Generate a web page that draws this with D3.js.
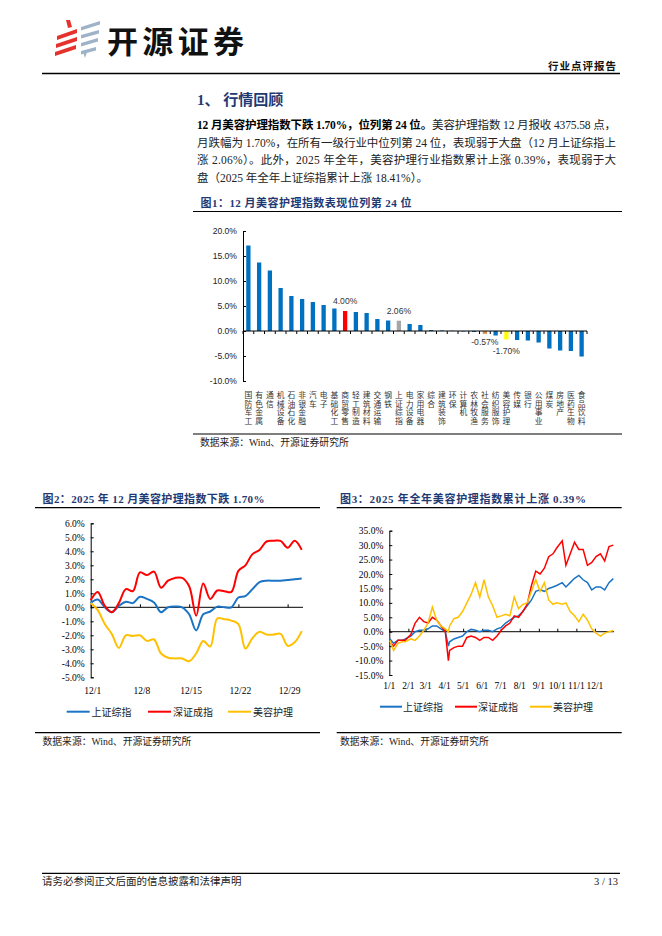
<!DOCTYPE html>
<html><head><meta charset="utf-8">
<script src="https://cdn.jsdelivr.net/npm/d3@7/dist/d3.min.js"></script>
<style>body{margin:0;background:#fff}svg{display:block}</style>
</head><body>
<svg id="page" width="662" height="936"></svg>
<script>
// ---------- DATA ----------
const industries = ["国防军工","有色金属","通信","机械设备","石油石化","非银金融","汽车","电子","基础化工","商贸零售","轻工制造","建筑材料","交通运输","钢铁","上证综指","电力设备","家用电器","综合","建筑装饰","环保","计算机","农林牧渔","社会服务","纺织服饰","美容护理","传媒","银行","公用事业","煤炭","房地产","医药生物","食品饮料"];
const monthReturn = [17.1,13.7,12.1,8.6,7.0,6.4,5.8,5.2,4.5,4.00,3.8,3.6,2.4,2.1,2.06,1.4,1.2,0.2,0.1,0.05,-0.1,-0.2,-0.57,-0.9,-1.70,-1.8,-1.9,-2.3,-3.5,-3.9,-4.0,-5.1];
const highlight = {"商贸零售":"#FF0000","上证综指":"#A6A6A6","社会服务":"#D98C52","美容护理":"#FFFF00"};
const barLabels = {"商贸零售":"4.00%","上证综指":"2.06%","社会服务":"-0.57%","美容护理":"-1.70%"};
const yTicks1 = [-10,-5,0,5,10,15,20];

const days2 = d3.range(1,32);
const xLabels2 = [[1,"12/1"],[8,"12/8"],[15,"12/15"],[22,"12/22"],[29,"12/29"]];
const sh2 = [0.3,0.55,0.0,-0.35,0.1,0.4,0.3,0.75,0.6,0.35,-0.35,0.0,0.05,0.0,-0.5,-1.65,-0.5,-0.3,0.05,0.0,0.0,0.7,0.8,1.3,1.8,1.9,1.9,1.9,1.95,2.0,2.06];
const sz2 = [0.5,1.1,0.1,-0.35,0.3,1.3,1.15,2.5,2.3,2.55,1.4,1.9,2.1,2.1,1.5,-0.6,1.7,0.6,1.2,1.15,1.1,2.6,3.0,3.8,4.1,4.7,4.75,4.75,4.25,4.75,4.1];
const bc2 = [0.3,-0.2,-1.2,-1.9,-2.9,-2.0,-2.05,-2.0,-2.4,-2.3,-3.3,-3.6,-3.65,-3.65,-3.85,-3.3,-2.4,-2.8,-0.8,-0.85,-0.95,-1.2,-2.95,-2.2,-1.75,-1.95,-1.95,-1.9,-2.75,-2.5,-1.7];
const yTicks2 = [-5,-4,-3,-2,-1,0,1,2,3,4,5,6];

const dates3 = ["2025-01-02","2025-01-08","2025-01-15","2025-01-22","2025-01-27","2025-02-05","2025-02-12","2025-02-19","2025-02-26","2025-03-05","2025-03-12","2025-03-19","2025-03-26","2025-04-02","2025-04-07","2025-04-09","2025-04-16","2025-04-23","2025-04-30","2025-05-07","2025-05-14","2025-05-21","2025-05-28","2025-06-04","2025-06-11","2025-06-18","2025-06-25","2025-07-02","2025-07-09","2025-07-16","2025-07-23","2025-07-30","2025-08-06","2025-08-13","2025-08-20","2025-08-27","2025-09-03","2025-09-10","2025-09-17","2025-09-24","2025-09-30","2025-10-09","2025-10-15","2025-10-22","2025-10-29","2025-11-05","2025-11-12","2025-11-19","2025-11-26","2025-12-03","2025-12-10","2025-12-17","2025-12-24","2025-12-31"];
const sh3 = [-2.5,-4,-3,-3,-2.5,-1.5,0,0.5,0.5,1,2,2,1,0,-5,-3.5,-2.5,-2,-1.5,0,0.8,0.5,0,0.5,0.5,0,1,1.5,3,4,5,5.5,7,9,11,14,14.5,14,15,15.5,16,17,15.5,17,18.5,19.5,18,17,14.5,15.5,15.5,14.5,17,18.4];
const sz3 = [-3.5,-5,-3,-3,-3,-1,3,5,3.5,3,5,4,2,0,-10,-6.5,-5.5,-5,-5,-2,-1.5,-2,-3,-2,-2,-3,-1.5,0.5,2,3,5.5,5,7,9.5,16,21,20,22,26,27,29,31.5,23,27,31,28.5,28.5,23,24,26,27,24.5,29.5,30];
const bc3 = [-3,-6.5,-4,-3.5,-3.5,-2.5,-3,-1.5,0.5,3,8.5,4,2,1,0,2,4.5,5,7,10,13,17,12,18,12,9,5,5.5,6,5.5,12,8,9.5,10,14,18,14,17,11,9.5,10,9.5,10,7,5.5,3.5,6,4,1,-0.5,-1.5,-0.5,0,0.39];
const monthTicks3 = ["2025-01-01","2025-02-01","2025-03-01","2025-04-01","2025-05-01","2025-06-01","2025-07-01","2025-08-01","2025-09-01","2025-10-01","2025-11-01","2025-12-01"];
const monthLabels3 = ["1/1","2/1","3/1","4/1","5/1","6/1","7/1","8/1","9/1","10/1","11/1","12/1"];
const yTicks3 = [-15,-10,-5,0,5,10,15,20,25,30,35];

const seriesNames = ["上证综指","深证成指","美容护理"];
const seriesColors = ["#1A73C4","#FF0000","#FFC000"];

// ---------- PAGE ----------
const svg = d3.select("#page");
const NAVY = "#1F3A73";
const CJK = "'Noto Sans CJK SC'";
const SERIF = "'Liberation Serif'," + CJK;
const SANS = "'Liberation Sans'," + CJK;

// logo
const logo = svg.append("g");
const redBars = [[57,36,77,29],[56,44,77,37],[55,52,76,45]];
redBars.forEach(b=>logo.append("polygon").attr("points",`${b[0]},${b[1]} ${b[2]},${b[3]} ${b[2]},${b[3]+4} ${b[0]},${b[1]+4}`).attr("fill","#E5322D"));
logo.append("path").attr("d","M66,20 L70,20 L72,27 L68,28 Z").attr("fill","#E5322D");
const grayBars = [[81,27,100,21],[81,35,99,30],[81,43,98,38],[81,51,96,47]];
grayBars.forEach(b=>logo.append("polygon").attr("points",`${b[0]},${b[1]} ${b[2]},${b[3]} ${b[2]},${b[3]+3.5} ${b[0]},${b[1]+3.5}`).attr("fill","#9FB3C8"));
logo.append("path").attr("d","M83,52 L87,52 L85,58 Z").attr("fill","#9FB3C8");
svg.append("text").attr("x",107).attr("y",53).attr("font-family",CJK).attr("font-weight",700)
  .attr("font-size",31).attr("textLength",137).attr("lengthAdjust","spacing").attr("fill","#111").text("开源证券");
svg.append("text").attr("x",617).attr("y",70).attr("text-anchor","end").attr("font-family",CJK).attr("font-weight",700)
  .attr("font-size",10.5).attr("letter-spacing",1).attr("fill","#111").text("行业点评报告");
svg.append("line").attr("x1",42).attr("x2",620).attr("y1",73.5).attr("y2",73.5).attr("stroke","#000").attr("stroke-width",1.5);

// heading and body
svg.append("text").attr("x",197).attr("y",104.5).attr("font-family",SERIF).attr("font-weight",700).attr("font-size",15).attr("fill",NAVY).text("1、 行情回顾");
const body = svg.append("g").attr("font-family",SERIF).attr("font-size",11.5).attr("fill","#222");
const l1 = body.append("text").attr("x",197).attr("y",128.5).attr("textLength",419).attr("lengthAdjust","spacing");
l1.append("tspan").attr("font-weight",700).attr("fill","#000").text("12 月美容护理指数下跌 1.70%，位列第 24 位。");
l1.append("tspan").text("美容护理指数 12 月报收 4375.58 点，");
body.append("text").attr("x",197).attr("y",146.5).attr("textLength",419).attr("lengthAdjust","spacing").text("月跌幅为 1.70%，在所有一级行业中位列第 24 位，表现弱于大盘（12 月上证综指上");
body.append("text").attr("x",197).attr("y",164).attr("textLength",419).attr("lengthAdjust","spacing").text("涨 2.06%）。此外，2025 年全年，美容护理行业指数累计上涨 0.39%，表现弱于大");
body.append("text").attr("x",197).attr("y",181.5).text("盘（2025 年全年上证综指累计上涨 18.41%）。");

// fig titles
function figTitle(x,y,w,txt){
  svg.append("text").attr("x",x).attr("y",y).attr("font-family",SERIF).attr("font-weight",700).attr("font-size",11)
    .attr("fill",NAVY).attr("textLength",w).attr("lengthAdjust","spacing").text(txt);
}
function hline(x1,x2,y,w){svg.append("line").attr("x1",x1).attr("x2",x2).attr("y1",y).attr("y2",y).attr("stroke","#000").attr("stroke-width",w||1);}
function source(x,y){svg.append("text").attr("x",x).attr("y",y).attr("font-family",SERIF).attr("font-size",9.8).attr("fill","#222").text("数据来源：Wind、开源证券研究所");}

figTitle(200.5,206.5,211,"图1：12 月美容护理指数表现位列第 24 位");
hline(193,622,211.5,1);
hline(193,622,434,1.2);
source(200,446);

// ---------- CHART 1 ----------
const c1 = svg.append("g");
const x1 = d3.scaleBand().domain(industries).range([243,587]).paddingInner(0.6).paddingOuter(0.3);
const y1 = d3.scaleLinear().domain([-10,20]).range([381,231]);
c1.append("g").attr("transform","translate(243,0)")
  .call(d3.axisLeft(y1).tickValues(yTicks1).tickSize(-3).tickPadding(6).tickFormat(d=>d.toFixed(1)+"%"))
  .call(g=>{g.select(".domain").attr("stroke","#000");g.selectAll("text").attr("font-family",SANS).attr("font-size",8.6).attr("fill","#222");});
c1.selectAll("rect.bar").data(industries).join("rect").attr("class","bar")
  .attr("x",d=>x1(d)).attr("width",x1.bandwidth())
  .attr("y",(d,i)=>y1(Math.max(0,monthReturn[i]))).attr("height",(d,i)=>Math.abs(y1(monthReturn[i])-y1(0)))
  .attr("fill",d=>highlight[d]||"#0070C0");
c1.append("line").attr("x1",243).attr("x2",587).attr("y1",y1(0)).attr("y2",y1(0)).attr("stroke","#000").attr("stroke-width",1);
const step1 = x1.step();
c1.selectAll("line.ct").data(d3.range(industries.length+1)).join("line").attr("class","ct")
  .attr("x1",i=>243+i*step1).attr("x2",i=>243+i*step1).attr("y1",y1(0)).attr("y2",y1(0)+3).attr("stroke","#000");
// value labels
industries.forEach((d,i)=>{
  if(!barLabels[d]) return;
  const v = monthReturn[i];
  const cx = x1(d)+x1.bandwidth()/2;
  const yy = v>=0 ? y1(v)-10 : y1(0)+ (d==="美容护理"?20:11);
  c1.append("text").attr("x",cx).attr("y",yy).attr("text-anchor","middle").attr("dominant-baseline","central")
    .attr("font-family",SANS).attr("font-size",8.6).attr("fill","#333").text(barLabels[d]);
});
// vertical category labels (one vertical text per category)
c1.selectAll("text.cat").data(industries).join("text").attr("class","cat")
  .attr("x",d=>x1(d)+x1.bandwidth()/2).attr("y",391)
  .style("writing-mode","vertical-rl").attr("letter-spacing",0.9)
  .attr("font-family",CJK).attr("font-size",7.8).attr("fill","#333").text(d=>d);

// ---------- CHART 2 ----------
figTitle(42.5,503,222,"图2：2025 年 12 月美容护理指数下跌 1.70%");
hline(35,320,507.7,1.2);
hline(35,320,732.7,1.2);
source(42.5,745);
const c2 = svg.append("g");
const x2 = d3.scaleLinear().domain([1,31]).range([90.7,301.7]);
const y2 = d3.scaleLinear().domain([-5,6]).range([677.3,523.3]);
c2.append("g").attr("transform","translate(90.7,0)")
  .call(d3.axisLeft(y2).tickValues(yTicks2).tickSize(-3).tickPadding(6).tickFormat(d=>d.toFixed(1)+"%"))
  .call(g=>{g.select(".domain").attr("stroke","#000");g.selectAll("text").attr("font-family",SERIF).attr("font-size",9.5).attr("fill","#000");});
c2.append("g").attr("transform",`translate(0,${y2(0)})`)
  .call(d3.axisBottom(x2).tickValues(xLabels2.map(d=>d[0])).tickSize(-3).tickFormat(""))
  .call(g=>{g.select(".domain").attr("stroke","#000").attr("d","M90.7,0H303");});
c2.selectAll("text.xl").data(xLabels2).join("text").attr("class","xl")
  .attr("x",d=>x2(d[0])+2).attr("y",691).attr("text-anchor","middle").attr("dominant-baseline","central")
  .attr("font-family",SERIF).attr("font-size",9.5).attr("fill","#000").text(d=>d[1]);
const line2 = d3.line().x((d,i)=>x2(days2[i])).y(d=>y2(d)).curve(d3.curveCatmullRom.alpha(0.5));
[sh2,sz2,bc2].forEach((s,k)=>{
  c2.append("path").attr("d",line2(s)).attr("fill","none").attr("stroke",seriesColors[k]).attr("stroke-width",2);
});
const leg2 = [[66.7,91.5],[148,173],[228,253]];
leg2.forEach((p,k)=>{
  c2.append("line").attr("x1",p[0]).attr("x2",p[0]+23).attr("y1",711.7).attr("y2",711.7).attr("stroke",seriesColors[k]).attr("stroke-width",2);
  c2.append("text").attr("x",p[1]).attr("y",711.7).attr("dominant-baseline","central").attr("font-family",CJK).attr("font-size",10).attr("fill","#222").text(seriesNames[k]);
});

// ---------- CHART 3 ----------
figTitle(340,503,246,"图3：2025 年全年美容护理指数累计上涨 0.39%");
hline(336.7,621.7,507.7,1.2);
hline(336.7,621.7,732.7,1.2);
source(340,745);
const c3 = svg.append("g");
const parse = d3.timeParse("%Y-%m-%d");
const x3 = d3.scaleTime().domain([parse("2025-01-01"),parse("2025-12-31")]).range([389.3,613.3]);
const y3 = d3.scaleLinear().domain([-15,35]).range([675,530.7]);
c3.append("g").attr("transform","translate(389.3,0)")
  .call(d3.axisLeft(y3).tickValues(yTicks3).tickSize(-3).tickPadding(6).tickFormat(d=>d.toFixed(1)+"%"))
  .call(g=>{g.select(".domain").attr("stroke","#000");g.selectAll("text").attr("font-family",SERIF).attr("font-size",9.5).attr("fill","#000");});
c3.append("g").attr("transform",`translate(0,${y3(0)})`)
  .call(d3.axisBottom(x3).tickValues(monthTicks3.map(parse)).tickSize(-3).tickFormat(""))
  .call(g=>{g.select(".domain").attr("stroke","#000").attr("d","M389.3,0H614");});
c3.selectAll("text.xl").data(monthTicks3).join("text").attr("class","xl")
  .attr("x",d=>x3(parse(d))).attr("y",686).attr("text-anchor","middle").attr("dominant-baseline","central")
  .attr("font-family",SERIF).attr("font-size",9.5).attr("fill","#000").text((d,i)=>monthLabels3[i]);
const line3 = d3.line().x((d,i)=>x3(parse(dates3[i]))).y(d=>y3(d));
[sh3,sz3,bc3].forEach((s,k)=>{
  c3.append("path").attr("d",line3(s)).attr("fill","none").attr("stroke",seriesColors[k]).attr("stroke-width",1.5);
});
const leg3 = [[380,403],[455,478],[530,553]];
leg3.forEach((p,k)=>{
  c3.append("line").attr("x1",p[0]).attr("x2",p[0]+22).attr("y1",706.7).attr("y2",706.7).attr("stroke",seriesColors[k]).attr("stroke-width",2);
  c3.append("text").attr("x",p[1]).attr("y",706.7).attr("dominant-baseline","central").attr("font-family",CJK).attr("font-size",10).attr("fill","#222").text(seriesNames[k]);
});

// ---------- FOOTER ----------
hline(42,620,873.3,1.2);
svg.append("text").attr("x",42).attr("y",885).attr("font-family",SERIF).attr("font-size",10.5).attr("fill","#222").text("请务必参阅正文后面的信息披露和法律声明");
svg.append("text").attr("x",618).attr("y",885).attr("text-anchor","end").attr("font-family",SERIF).attr("font-size",10.5).attr("fill","#222").text("3 / 13");
</script>
</body></html>
